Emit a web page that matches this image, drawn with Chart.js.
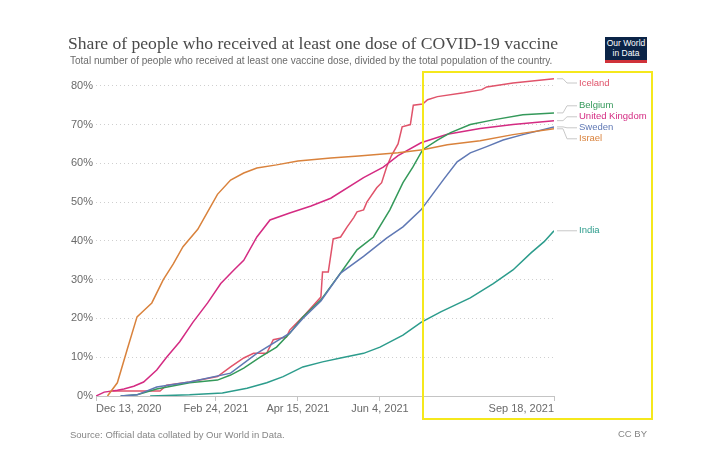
<!DOCTYPE html>
<html>
<head>
<meta charset="utf-8">
<script src="https://cdn.jsdelivr.net/npm/chart.js@4.4.1/dist/chart.umd.min.js"></script>
<style>
    body { margin: 0; background: #fff; }
    #wrap { position: relative; width: 720px; height: 470px; background: #fff; overflow: hidden; }
    #chart { position: absolute; left: 0; top: 0; }
    .txt { position: absolute; white-space: nowrap; font-family: "Liberation Sans", Arial, sans-serif; }
    #title { left: 68px; top: 33px; font-family: "Liberation Serif", "Times New Roman", serif; font-size: 17.6px; color: #4a4a4a; }
    #subtitle { left: 70px; top: 55px; font-size: 10px; color: #6b6b6b; }
    #logo { left: 605px; top: 37px; width: 42px; height: 21px; background: #0b2447; border-bottom: 3px solid #d0323a;
            color: #fff; font-size: 8.5px; line-height: 9.5px; text-align: center; padding-top: 2px; box-sizing: content-box; }
    #source { left: 70px; top: 429px; font-size: 9.5px; color: #858585; }
    #cc { right: 73px; top: 428px; font-size: 9.5px; color: #858585; }
    #box { position: absolute; left: 422px; top: 71px; width: 231px; height: 349px; border: 2px solid #f5e81c; box-sizing: border-box; pointer-events: none; }
</style>
</head>
<body>
<div id="wrap">
    <canvas id="chart" width="720" height="470"></canvas>
    <div class="txt" id="title">Share of people who received at least one dose of COVID-19 vaccine</div>
    <div class="txt" id="subtitle">Total number of people who received at least one vaccine dose, divided by the total population of the country.</div>
    <div class="txt" id="logo">Our World<br>in Data</div>
    <div class="txt" id="source">Source: Official data collated by Our World in Data.</div>
    <div class="txt" id="cc">CC BY</div>
    <div id="box"></div>
</div>
<script>
// days counted from Dec 13, 2020
const tickDays = [0, 73, 123, 173, 279];
const tickLabels = ['Dec 13, 2020', 'Feb 24, 2021', 'Apr 15, 2021', 'Jun 4, 2021', 'Sep 18, 2021'];
const yTicks = [0, 10, 20, 30, 40, 50, 60, 70, 80];

const israelDays = [7, 13, 19, 25, 29, 34, 41, 47, 53, 62, 68, 74, 82, 90, 98, 110, 123, 143, 160, 184, 199, 214, 234, 254, 279];
const israelShare = [0, 3.4, 12, 20.4, 22, 24, 30, 34, 38.5, 43, 47.5, 52, 55.7, 57.5, 58.8, 59.6, 60.6, 61.4, 61.9, 62.7, 63.5, 64.8, 65.8, 67.4, 68.9];

const ukDays = [0, 5, 13, 17, 23, 29, 37, 43, 51, 59, 68, 76, 84, 90, 98, 106, 118, 131, 143, 163, 175, 184, 198, 214, 234, 254, 279];
const ukShare = [0, 1, 1.5, 1.8, 2.5, 3.6, 6.7, 10, 14, 19, 24, 29, 32.5, 35, 41, 45.4, 47.2, 49, 51, 56.3, 59, 62, 65.3, 67.5, 69, 70, 71];

const icelandDays = [10, 39, 43, 57, 74, 82, 90, 96, 104, 108, 116, 118, 126, 137, 138, 141.5, 144.5, 149, 153, 157, 159, 163, 165, 171, 174, 177, 180, 184, 186.5, 191.5, 193.3, 199, 202, 208, 224, 235, 238, 254, 279];
const icelandShare = [1.3, 1.3, 2.8, 3.6, 5, 7.5, 9.8, 11, 11, 14.5, 15.2, 17, 20.4, 25.5, 32, 32, 40.5, 41, 43.6, 46, 47.5, 48, 50, 53.7, 55, 59, 62, 65, 69.4, 70, 75, 75.3, 76.4, 77.2, 78.2, 79, 79.7, 80.7, 81.8];

const belgiumDays = [15, 25, 37, 57, 74, 82, 90, 100, 110, 118, 126, 137, 149, 159, 169, 179, 187, 193, 199, 208, 216, 228, 242, 260, 279];
const belgiumShare = [0, 0.3, 1.8, 3.4, 4.1, 5.4, 7.2, 10, 12.6, 16.2, 20.4, 24.8, 31.7, 37.7, 41, 48, 55, 59, 63.5, 66, 67.9, 70, 71.2, 72.5, 73];

const swedenDays = [15, 25, 37, 57, 82, 98, 118, 126, 137, 149, 163, 177, 187, 198, 205, 212, 220, 228, 238, 248, 260, 279];
const swedenShare = [0, 0.3, 2.3, 3.6, 5.9, 11, 16.2, 20, 24.5, 31.7, 36, 40.7, 43.6, 48, 52, 56, 60.4, 62.7, 64.3, 66, 67.4, 69.4];

const indiaDays = [33, 57, 77, 92, 104, 114, 126, 138, 149, 163, 173, 187, 198, 210, 228, 242, 254, 265, 273, 279];
const indiaShare = [0, 0.3, 0.8, 2, 3.4, 5, 7.5, 8.8, 9.8, 11, 12.6, 15.7, 19, 21.7, 25.3, 29, 32.5, 36.9, 39.8, 42.6];

const countries = ['India', 'Israel', 'Sweden', 'Belgium', 'United Kingdom', 'Iceland'];
const countryDays = [indiaDays, israelDays, swedenDays, belgiumDays, ukDays, icelandDays];
const countryShare = [indiaShare, israelShare, swedenShare, belgiumShare, ukShare, icelandShare];
const countryColors = ['#2c9c8c', '#d9823c', '#5f78b4', '#34995a', '#d42b82', '#e0536a'];

const FONT = '"Liberation Sans", Arial, sans-serif';

// labels at the right end of each line, spread apart so they don't overlap
const endLabels = {
    id: 'endLabels',
    afterDatasetsDraw(chart) {
        const ctx = chart.ctx;
        const area = chart.chartArea;
        const gap = 11;
        const items = chart.data.datasets.map((ds, i) => {
            const pts = chart.getDatasetMeta(i).data;
            const last = pts[pts.length - 1];
            return { name: ds.label, color: ds.borderColor, x: last.x, y: last.y, ly: last.y };
        }).sort((a, b) => a.y - b.y);

        // group overlapping labels and center each group on its lines
        let groups = items.map(it => ({ members: [it], center: it.y }));
        let merged = true;
        while (merged) {
            merged = false;
            for (let i = 0; i < groups.length - 1; i++) {
                const a = groups[i], b = groups[i + 1];
                const aBottom = a.center + (a.members.length - 1) * gap / 2;
                const bTop = b.center - (b.members.length - 1) * gap / 2;
                if (bTop - aBottom < gap) {
                    const members = a.members.concat(b.members);
                    const center = members.reduce((s, m) => s + m.y, 0) / members.length;
                    groups.splice(i, 2, { members, center });
                    merged = true;
                    break;
                }
            }
        }
        groups.forEach(g => {
            let start = g.center - (g.members.length - 1) * gap / 2;
            start = Math.max(start, area.top + 5);
            g.members.forEach((m, k) => { m.ly = start + k * gap; });
        });

        ctx.save();
        ctx.font = '9.5px ' + FONT;
        ctx.textBaseline = 'middle';
        items.forEach(it => {
            const x0 = it.x + 3;
            ctx.strokeStyle = '#c8c8c8';
            ctx.lineWidth = 1;
            ctx.beginPath();
            ctx.moveTo(x0, it.y);
            ctx.lineTo(x0 + 6, it.y);
            ctx.lineTo(x0 + 10, it.ly);
            ctx.lineTo(x0 + 20, it.ly);
            ctx.stroke();
            ctx.fillStyle = it.color;
            ctx.fillText(it.name, x0 + 22, it.ly);
        });
        ctx.restore();
    }
};

new Chart(document.getElementById('chart'), {
    type: 'line',
    data: {
        datasets: countries.map((name, i) => ({
            label: name,
            data: countryDays[i].map((d, k) => ({ x: d, y: countryShare[i][k] })),
            borderColor: countryColors[i],
            backgroundColor: countryColors[i],
            borderWidth: 1.5,
            pointRadius: 0,
            tension: 0,
            fill: false
        }))
    },
    options: {
        responsive: false,
        animation: false,
        layout: { padding: { left: 0, top: 78, right: 166, bottom: 0 } },
        plugins: {
            legend: { display: false },
            tooltip: { enabled: false }
        },
        scales: {
            x: {
                type: 'linear',
                min: 0,
                max: 279,
                afterBuildTicks: (scale) => { scale.ticks = tickDays.map(v => ({ value: v })); },
                afterFit: (scale) => { scale.height = 74; },
                grid: { drawOnChartArea: false, drawTicks: true, tickLength: 5, color: '#c4c4c4' },
                border: { display: true, color: '#c4c4c4' },
                ticks: {
                    align: 'inner',
                    autoSkip: false,
                    maxRotation: 0,
                    padding: 1,
                    color: '#6a6a6a',
                    font: { family: FONT, size: 11 },
                    callback: (v) => tickLabels[tickDays.indexOf(v)]
                }
            },
            y: {
                min: 0,
                max: 82,
                afterBuildTicks: (scale) => { scale.ticks = yTicks.map(v => ({ value: v })); },
                afterFit: (scale) => { scale.width = 96; },
                grid: { color: '#cfcfcf', drawTicks: false, lineWidth: 1 },
                border: { display: false, dash: [1, 3] },
                ticks: {
                    padding: 3,
                    color: '#6a6a6a',
                    font: { family: FONT, size: 11 },
                    callback: (v) => v + '%'
                }
            }
        }
    },
    plugins: [endLabels]
});
</script>
</body>
</html>
